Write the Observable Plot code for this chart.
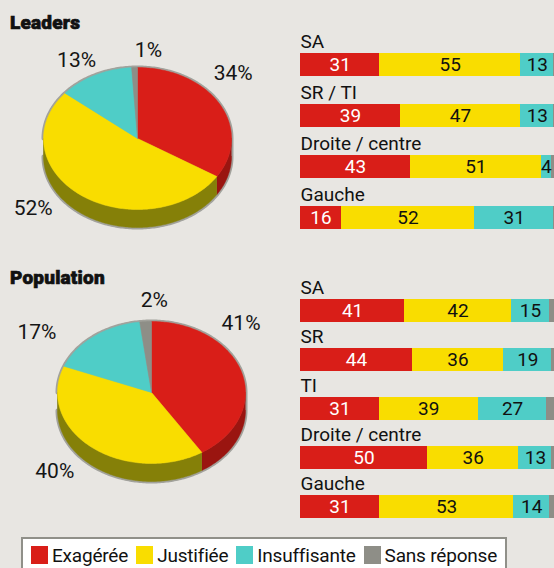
<!DOCTYPE html>
<html><head><meta charset="utf-8">
<script src="https://cdn.jsdelivr.net/npm/d3@7"></script>
<script src="https://cdn.jsdelivr.net/npm/@observablehq/plot@0.6"></script>
<style>
html,body{margin:0;padding:0;background:#e8e6e2;}
#chart{position:relative;width:554px;height:568px;overflow:hidden;background:#e8e6e2;font-family:Roboto,sans-serif;}
#chart > *{position:absolute;}
.title{font-weight:900;font-size:19px;line-height:19px;color:#111;white-space:nowrap;-webkit-text-stroke:0.7px #111;letter-spacing:0.2px;}
.lg-swatches-wrap{min-height:0 !important;margin:0 !important;flex-wrap:nowrap !important;white-space:nowrap;}
.lg-swatch{margin-right:8px !important;}
.lg-swatch > svg{margin-right:4px !important;}
</style></head><body><div id="chart"></div>
<script>
// ---- data ----
const categories = ["Exagérée", "Justifiée", "Insuffisante", "Sans réponse"];
const colors = ["#d91e18", "#f9dd00", "#4fcdc7", "#8e8e87"];
const sideColors = ["#9a1510", "#858008", "#2e8d88", "#6a6a64"];

const leadersPie = [34, 52, 13, 1];
const populationPie = [41, 40, 17, 2];

const leadersRows = ["SA", "SR / TI", "Droite / centre", "Gauche"];
const leadersExag = [31, 39, 43, 16];
const leadersJust = [55, 47, 51, 52];
const leadersInsuf = [13, 13, 4, 31];
const leadersSansRep = [1, 1, 2, 1];

const popRows = ["SA", "SR", "TI", "Droite / centre", "Gauche"];
const popExag = [41, 44, 31, 50, 31];
const popJust = [42, 36, 39, 36, 53];
const popInsuf = [15, 19, 27, 13, 14];
const popSansRep = [2, 1, 3, 1, 2];

// label nudges (pixels) for the pie percentage annotations
const leadersLabelNudge = [[-18, -18], [-28, -10], [-2, 9], [15, 10]];
const popLabelNudge = [[-35, -42], [-14, 3], [-35, 17], [11, 6]];

const FONT = "Roboto, sans-serif";
const chart = document.getElementById("chart");
const rad = a => a * Math.PI / 180;

function pieSlices(values) {
  const total = d3.sum(values);
  let acc = 0;
  return values.map((v, i) => {
    const a0 = acc / total * 360; acc += v;
    const a1 = acc / total * 360;
    return {i, cat: categories[i], value: v, a0, a1};
  });
}
function arcAngles(a0, a1) {
  const n = Math.max(2, Math.ceil(a1 - a0));
  return d3.range(n + 1).map(k => a0 + (a1 - a0) * k / n);
}

function piePlot(values, o, nudge) {
  const slices = pieSlices(values);
  const depth = o.depth / o.ry;
  const pt = (a, dy = 0) => ({x: Math.sin(rad(a)), y: Math.cos(rad(a)) - dy});
  const sil = [...arcAngles(270, 450).map(a => pt(a)), ...arcAngles(90, 270).map(a => pt(a, depth))];
  const marks = [
    Plot.line(sil, {x: "x", y: "y", fill: "#a2a29c", stroke: "#a2a29c", strokeWidth: 4, strokeLinejoin: "round"})
  ];
  slices.forEach(s => {
    const s0 = Math.max(s.a0, 90), s1 = Math.min(s.a1, 270);
    if (s1 > s0) {
      const side = [...arcAngles(s0, s1).map(a => pt(a)), ...arcAngles(s0, s1).reverse().map(a => pt(a, depth))];
      marks.push(Plot.line(side, {x: "x", y: "y", fill: sideColors[s.i], stroke: sideColors[s.i], strokeWidth: 0.5}));
    }
  });
  slices.forEach(s => {
    const poly = [{x: 0, y: 0}, ...arcAngles(s.a0, s.a1).map(a => pt(a)), {x: 0, y: 0}];
    marks.push(Plot.line(poly, {x: "x", y: "y", fill: colors[s.i], stroke: colors[s.i], strokeWidth: 0.5}));
  });
  marks.push(Plot.text(slices, {
    x: s => 1.38 * Math.sin(rad((s.a0 + s.a1) / 2)) + nudge[s.i][0] / o.rx,
    y: s => 1.38 * Math.cos(rad((s.a0 + s.a1) / 2)) - nudge[s.i][1] / o.ry,
    text: s => s.value + "%",
    fontSize: 21, fill: "#151515", fontFamily: FONT
  }));
  const el = Plot.plot({
    width: o.w, height: o.h, margin: 0,
    x: {domain: [-1, 1], range: [o.cx - o.rx, o.cx + o.rx], axis: null},
    y: {domain: [-1, 1], range: [o.cy + o.ry, o.cy - o.ry], axis: null},
    style: {background: "transparent", overflow: "visible"},
    marks
  });
  el.style.left = o.left + "px"; el.style.top = o.top + "px";
  return el;
}

function barPlot(rows, series, o) {
  const table = rows.flatMap((r, j) => {
    let acc = 0;
    return series.map((vals, i) => {
      const x1 = acc; acc += vals[j];
      return {row: r, cat: categories[i], i, value: vals[j], x1, x2: acc};
    });
  });
  const mid = d => (d.x1 + d.x2) / 2;
  const el = Plot.plot({
    width: 554, height: o.h, margin: 0,
    x: {domain: [0, 100], range: [300, o.xEnd], axis: null},
    y: {type: "band", domain: rows, range: o.yRange, paddingInner: o.pad, paddingOuter: 0, axis: null},
    color: {domain: categories, range: colors},
    style: {background: "transparent", overflow: "hidden", fontFamily: FONT},
    marks: [
      Plot.barX(table, {x1: "x1", x2: "x2", y: "row", fill: "cat", shapeRendering: "crispEdges"}),
      Plot.text(table.filter(d => d.i === 0), {x: mid, y: "row", text: "value", fill: "white", fontSize: 19}),
      Plot.text(table.filter(d => d.i === 1 || d.i === 2), {x: mid, y: "row", text: "value", fill: "#111", fontSize: 19}),
      Plot.text(rows, {x: () => 0, y: d => d, text: d => d, textAnchor: "start", dy: -23.5, fontSize: 19, fill: "#111"})
    ]
  });
  el.style.left = "0px"; el.style.top = o.top + "px";
  return el;
}

function title(t, top) {
  const d = document.createElement("div");
  d.className = "title"; d.textContent = t;
  d.style.left = "10px"; d.style.top = top + "px";
  return d;
}

chart.append(title("Leaders", 13));
chart.append(title("Population", 268));

chart.append(piePlot(leadersPie, {w: 290, h: 250, left: 0, top: 0, cx: 137, cy: 138, rx: 94, ry: 71, depth: 18}, leadersLabelNudge));
chart.append(piePlot(populationPie, {w: 290, h: 260, left: 0, top: 255, cx: 151, cy: 137, rx: 94, ry: 71, depth: 18}, popLabelNudge));

chart.append(barPlot(leadersRows, [leadersExag, leadersJust, leadersInsuf, leadersSansRep], {h: 245, top: 0, xEnd: 556, yRange: [52, 229], pad: 0.552}));
chart.append(barPlot(popRows, [popExag, popJust, popInsuf, popSansRep], {h: 275, top: 255, xEnd: 554, yRange: [42, 264], pad: 0.5377}));

// legend
const box = document.createElement("div");
Object.assign(box.style, {left: "21px", top: "537px", width: "486px", height: "40px", boxSizing: "border-box",
  border: "2px solid #909089", background: "#fff", paddingLeft: "8px", paddingTop: "4.7px", overflow: "hidden"});
const lg = Plot.legend({
  color: {domain: categories, range: colors}, legend: "swatches",
  swatchWidth: 17, swatchHeight: 18, className: "lg",
  style: {fontFamily: FONT, fontSize: "19px", color: "#111", margin: "0", letterSpacing: "-0.2px"}
});
box.append(lg);
chart.append(box);
</script></body></html>
